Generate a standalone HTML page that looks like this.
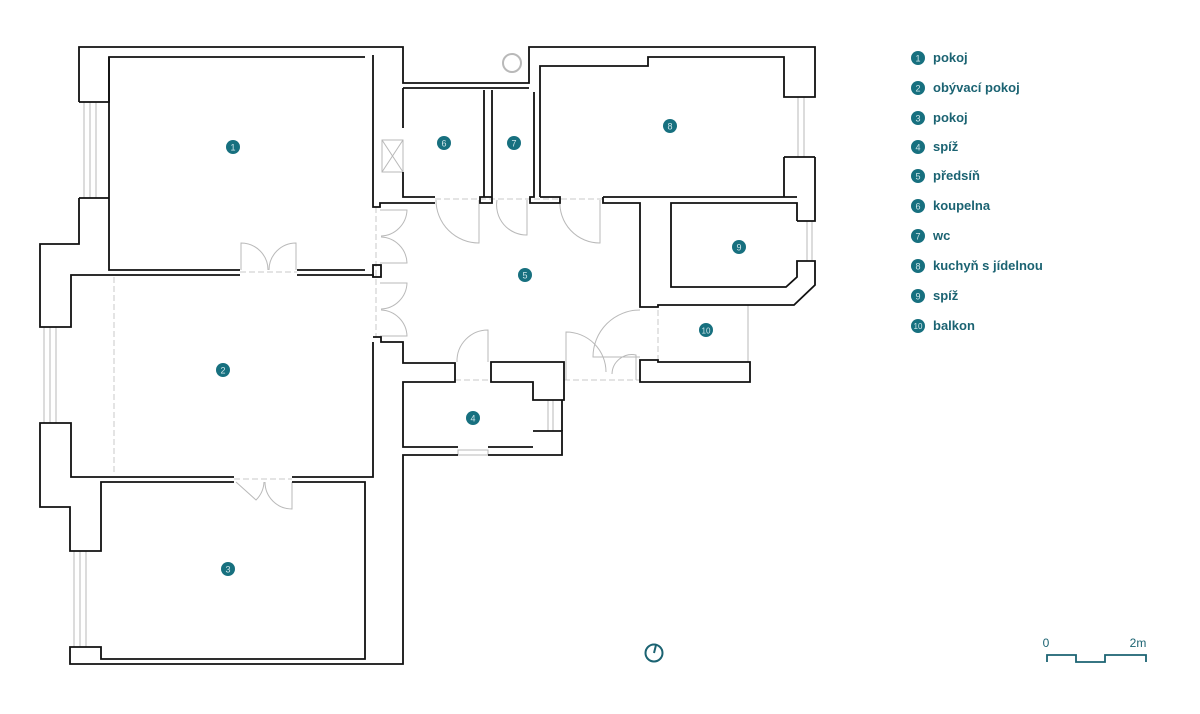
<!DOCTYPE html>
<html><head><meta charset="utf-8"><style>
html,body{margin:0;padding:0;background:#fff}
svg{display:block}
.w{fill:none;stroke:#111;stroke-width:1.8;stroke-linejoin:miter}
.g{fill:none;stroke:#b9b9b9;stroke-width:1}
.d{fill:none;stroke:#c8c8c8;stroke-width:1;stroke-dasharray:6 3}
.n{fill:#17707f}
.nt{fill:#cfe6ea;font:9px "Liberation Sans",sans-serif;text-anchor:middle}
.lt{fill:#1b6372;font:bold 13px "Liberation Sans",sans-serif}
</style></head><body>
<svg width="1200" height="714" viewBox="0 0 1200 714" xmlns="http://www.w3.org/2000/svg">
<!-- windows -->
<g class="g">
<rect x="84" y="102" width="12" height="96"/><line x1="90" y1="102" x2="90" y2="198"/>
<rect x="44" y="327" width="12" height="96"/><line x1="50" y1="327" x2="50" y2="423"/>
<rect x="74" y="551" width="12" height="96"/><line x1="80" y1="551" x2="80" y2="647"/>
<rect x="798" y="97" width="6" height="60"/>
<rect x="807" y="221" width="5" height="40"/>
<rect x="548" y="400" width="5" height="31"/>
<rect x="458" y="450" width="30" height="5"/>
<line x1="748" y1="305" x2="748" y2="362"/>
<circle cx="512" cy="63" r="9" stroke-width="2"/>
<rect x="382" y="140" width="21" height="32"/><path d="M382,140 L403,172 M403,140 L382,172"/>
</g>
<!-- dashed openings -->
<g class="d">
<line x1="114" y1="277" x2="114" y2="475"/>
<line x1="376" y1="207" x2="376" y2="337"/>
<line x1="240" y1="272" x2="297" y2="272"/>
<line x1="435" y1="199" x2="603" y2="199"/>
<line x1="455" y1="380" x2="491" y2="380"/>
<line x1="564" y1="380" x2="640" y2="380"/>
<line x1="658" y1="310" x2="658" y2="360"/>
<line x1="234" y1="479" x2="292" y2="479"/>
</g>
<!-- doors -->
<g class="g">
<path d="M241,270 V243 A27,27 0 0 1 268,270"/><path d="M296,270 V243 A27,27 0 0 0 269,270"/>
<path d="M380,210 H407 A27,27 0 0 1 381,236"/><path d="M380,263 H407 A27,27 0 0 0 381,237"/>
<path d="M380,283 H407 A27,27 0 0 1 381,309"/><path d="M380,336 H407 A27,27 0 0 0 381,310"/>
<path d="M479,200 V243 A43,43 0 0 1 436,200"/>
<path d="M527,200 V235 A30,30 0 0 1 497,200"/>
<path d="M600,200 V243 A40,40 0 0 1 560,200"/>
<path d="M488,362 V330 A31,31 0 0 0 457,362"/>
<path d="M566,380 V332 A40,40 0 0 1 606,372"/>
<path d="M640,310 A47,47 0 0 0 593,357 H640"/>
<path d="M612,374 A20,20 0 0 1 636,355 V380"/>
<path d="M292,482 V509 A27,27 0 0 1 265,482"/><path d="M236,482 L256,500 A27,27 0 0 0 264,482"/>
</g>
<!-- walls -->
<g class="w">
<path d="M79,102 V47 H403 V83 H529 V47 H815 V97 H784 V57 H648 V66 H540 V197"/>
<path d="M79,102 H109 V57 H365"/>
<path d="M109,57 V270 H240 M297,270 H365"/>
<path d="M373,55 V207 H380 V203 H435"/>
<path d="M79,198 H109 M79,198 V244 H40 V327 H71 V275 H240 M297,275 H373 V277"/>
<path d="M403,88 H529 M403,88 V128 M403,172 V197 H435"/>
<path d="M484,90 V197 H480 V203 H492 V90 M484,197 H492"/>
<path d="M534,92 V197 H530 V203 H560 V197 H540"/>
<path d="M603,197 H797 M784,157 H815 M784,157 V197 M815,157 V221 H797 M603,197 V203 H640 V307 H658 V305 H794 L815,285 V261 H797 V277 L786,287 H671 V203 H797 V221"/>
<path d="M640,360 H658 V362 H750 V382 H640 Z"/>
<rect x="373" y="265" width="8" height="12"/>
<path d="M373,342 V477 H292 M234,477 H71 V423 H40 V507 H70 V551 H101 V482 H234 M292,482 H365 V659 H101 V647 H70 V664 H403 V455 H458 M488,455 H562 V431 H533"/>
<path d="M373,337 H381 V342 H403 V363 H455 V382 H403 V447 H458 M488,447 H533"/>
<path d="M491,362 H564 V400 H533 V382 H491 Z"/>
<path d="M562,431 V400"/>
</g>
<!-- markers -->
<g>
<circle class="n" cx="233" cy="147" r="7"/><text class="nt" x="233" y="150.5">1</text>
<circle class="n" cx="223" cy="370" r="7"/><text class="nt" x="223" y="373.5">2</text>
<circle class="n" cx="228" cy="569" r="7"/><text class="nt" x="228" y="572.5">3</text>
<circle class="n" cx="473" cy="418" r="7"/><text class="nt" x="473" y="421.5">4</text>
<circle class="n" cx="525" cy="275" r="7"/><text class="nt" x="525" y="278.5">5</text>
<circle class="n" cx="444" cy="143" r="7"/><text class="nt" x="444" y="146.5">6</text>
<circle class="n" cx="514" cy="143" r="7"/><text class="nt" x="514" y="146.5">7</text>
<circle class="n" cx="670" cy="126" r="7"/><text class="nt" x="670" y="129.5">8</text>
<circle class="n" cx="739" cy="247" r="7"/><text class="nt" x="739" y="250.5">9</text>
<circle class="n" cx="706" cy="330" r="7"/><text class="nt" x="706" y="333.5" style="font-size:8px">10</text>
</g>
<!-- legend -->
<g>
<circle class="n" cx="918" cy="58" r="7"/><text class="nt" x="918" y="61.5">1</text><text class="lt" x="933" y="62">pokoj</text>
<circle class="n" cx="918" cy="88" r="7"/><text class="nt" x="918" y="91.5">2</text><text class="lt" x="933" y="92">obývací pokoj</text>
<circle class="n" cx="918" cy="118" r="7"/><text class="nt" x="918" y="121.5">3</text><text class="lt" x="933" y="122">pokoj</text>
<circle class="n" cx="918" cy="147" r="7"/><text class="nt" x="918" y="150.5">4</text><text class="lt" x="933" y="151">spíž</text>
<circle class="n" cx="918" cy="176" r="7"/><text class="nt" x="918" y="179.5">5</text><text class="lt" x="933" y="180">předsíň</text>
<circle class="n" cx="918" cy="206" r="7"/><text class="nt" x="918" y="209.5">6</text><text class="lt" x="933" y="210">koupelna</text>
<circle class="n" cx="918" cy="236" r="7"/><text class="nt" x="918" y="239.5">7</text><text class="lt" x="933" y="240">wc</text>
<circle class="n" cx="918" cy="266" r="7"/><text class="nt" x="918" y="269.5">8</text><text class="lt" x="933" y="270">kuchyň s jídelnou</text>
<circle class="n" cx="918" cy="296" r="7"/><text class="nt" x="918" y="299.5">9</text><text class="lt" x="933" y="300">spíž</text>
<circle class="n" cx="918" cy="326" r="7"/><text class="nt" x="918" y="329" style="font-size:8px">10</text><text class="lt" x="933" y="330">balkon</text>
</g>
<!-- north + scale -->
<circle cx="654" cy="653" r="8.5" fill="none" stroke="#1b6372" stroke-width="2"/>
<line x1="654" y1="653" x2="656" y2="645" stroke="#1b6372" stroke-width="2"/>
<path d="M1047,662 V655 H1076 V662 H1105 V655 H1146 V662" fill="none" stroke="#1b6372" stroke-width="1.8"/>
<text x="1046" y="647" fill="#1b6372" style="font:12px 'Liberation Sans',sans-serif" text-anchor="middle">0</text>
<text x="1138" y="647" fill="#1b6372" style="font:12px 'Liberation Sans',sans-serif" text-anchor="middle">2m</text>
</svg>
</body></html>
